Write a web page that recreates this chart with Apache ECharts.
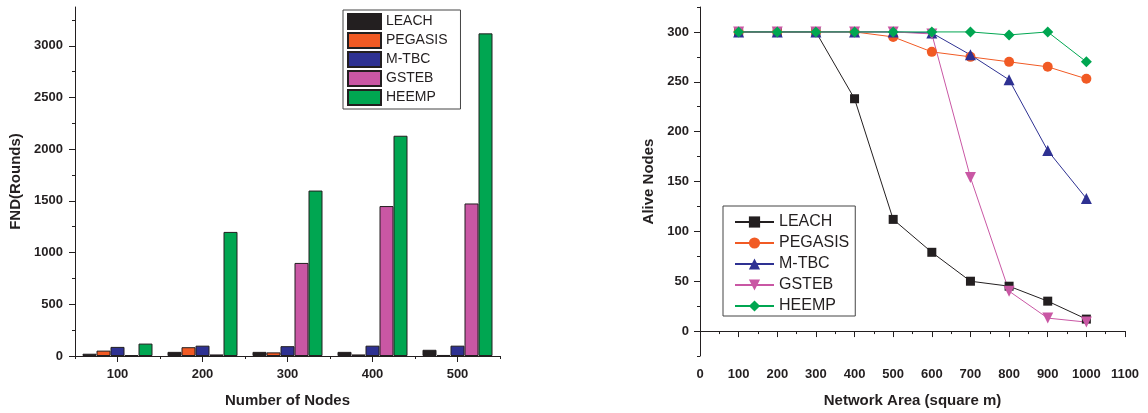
<!DOCTYPE html>
<html>
<head>
<meta charset="utf-8">
<script src="https://cdn.jsdelivr.net/npm/echarts@6/dist/echarts.min.js"></script>
<style>
  html, body { margin: 0; padding: 0; background: #fff; }
  #wrap { position: relative; width: 1148px; height: 413px; }
  #fnd { position: absolute; left: 0; top: 0; width: 574px; height: 413px; }
  #alive { position: absolute; left: 574px; top: 0; width: 574px; height: 413px; }
</style>
</head>
<body>
<div id="wrap">
  <div id="fnd"></div>
  <div id="alive"></div>
</div>
<script>
// ---- First node dead (rounds) per network size ----
const nodeCounts = ['100', '200', '300', '400', '500'];
const fndLeach   = [22, 40, 40, 40, 60];
const fndPegasis = [52, 85, 35, 15, 10];
const fndMtbc    = [88, 100, 95, 100, 100];
const fndGsteb   = [8, 15, 900, 1450, 1475];
const fndHeemp   = [120, 1200, 1600, 2130, 3120];
const fndMajorTicks = [0, 500, 1000, 1500, 2000, 2500, 3000];
const fndMinorTicks = [250, 750, 1250, 1750, 2250, 2750, 3250];

// ---- Alive nodes per network area ----
const areas        = [100, 200, 300, 400, 500, 600, 700, 800, 900, 1000];
const aliveLeach   = [300, 300, 300, 233, 112, 79, 50, 45, 30, 12];
const alivePegasis = [300, 300, 300, 300, 295, 280, 275, 270, 265, 253];
const aliveMtbc    = [300, 300, 300, 300, 300, 299, 277, 252, 181, 133];
const aliveGsteb   = [300, 300, 300, 300, 300, 298, 154, 40, 13, 9];
const aliveHeemp   = [300, 300, 300, 300, 300, 300, 300, 297, 300, 270];
const aliveMajorTicks = [0, 50, 100, 150, 200, 250, 300];
const aliveMinorTicks = [-25, 25, 75, 125, 175, 225, 275, 325];

const protocols = ['LEACH', 'PEGASIS', 'M-TBC', 'GSTEB', 'HEEMP'];
const colors = ['#231f20', '#f15a24', '#2e3192', '#c957a4', '#00a651'];

const INK = '#231f20';
const FONT = "'Liberation Sans', Arial, sans-serif";
const plain = v => String(v);
const tickLabel = { color: INK, fontFamily: FONT, fontWeight: 'bold', fontSize: 13, formatter: plain };
const axisName = { color: INK, fontFamily: FONT, fontWeight: 'bold', fontSize: 15 };
const axisLine = { show: true, lineStyle: { color: INK, width: 1 } };

// ---------- bar chart ----------
const fndSeriesData = [fndLeach, fndPegasis, fndMtbc, fndGsteb, fndHeemp];
const fndChart = echarts.init(document.getElementById('fnd'));
fndChart.setOption({
  animation: false,
  grid: { left: 75, right: 74, top: 7, bottom: 57, containLabel: false },
  legend: {
    orient: 'vertical', left: 343, top: 10,
    data: protocols, icon: 'rect',
    itemWidth: 33, itemHeight: 15, itemGap: 2,
    padding: [3, 13, 3, 4],
    borderColor: '#444', borderWidth: 1,
    textStyle: { color: INK, fontFamily: FONT, fontSize: 14, lineHeight: 16 }
  },
  xAxis: [{
    type: 'category', data: nodeCounts, boundaryGap: true,
    name: 'Number of Nodes', nameLocation: 'middle', nameGap: 37, nameTextStyle: axisName,
    axisLine: axisLine,
    axisTick: { show: true, alignWithLabel: true, length: 6, lineStyle: { color: INK } },
    axisLabel: Object.assign({}, tickLabel, { margin: 12 }),
    splitLine: { show: false }
  }, {
    type: 'category', data: nodeCounts, boundaryGap: true, position: 'bottom',
    axisLine: { show: false },
    axisTick: { show: true, length: 3, lineStyle: { color: INK } },
    axisLabel: { show: false },
    splitLine: { show: false }
  }],
  yAxis: [{
    type: 'value', min: 0, max: 3375, position: 'left',
    name: 'FND(Rounds)', nameLocation: 'middle', nameGap: 48, nameTextStyle: axisName,
    axisLine: axisLine,
    axisTick: { show: true, length: 6, customValues: fndMajorTicks, lineStyle: { color: INK } },
    axisLabel: Object.assign({}, tickLabel, { margin: 12, customValues: fndMajorTicks }),
    splitLine: { show: false }
  }, {
    type: 'value', min: 0, max: 3375, position: 'left',
    axisLine: { show: false },
    axisTick: { show: true, length: 3, customValues: fndMinorTicks, lineStyle: { color: INK } },
    axisLabel: { show: false },
    splitLine: { show: false }
  }],
  series: protocols.map((name, i) => ({
    name: name, type: 'bar', xAxisIndex: 0, yAxisIndex: 0,
    data: fndSeriesData[i],
    barWidth: 14, barGap: '0%',
    itemStyle: { color: colors[i], borderColor: INK, borderWidth: 1 }
  }))
});

// ---------- line chart ----------
const aliveSeriesData = [aliveLeach, alivePegasis, aliveMtbc, aliveGsteb, aliveHeemp];
const symbols = ['rect', 'circle', 'triangle', 'triangle', 'diamond'];
const symbolSizes = [9, 10, 11, 11, 11];
const symbolRotates = [0, 0, 0, 180, 0];
const aliveChart = echarts.init(document.getElementById('alive'));
aliveChart.setOption({
  animation: false,
  grid: { left: 126, right: 23, top: 7, bottom: 57, containLabel: false },
  legend: {
    orient: 'vertical', left: 149, top: 206,
    data: protocols,
    itemWidth: 39, itemHeight: 14, itemGap: 5,
    padding: [8, 6, 2, 11],
    borderColor: '#444', borderWidth: 1,
    textStyle: { color: INK, fontFamily: FONT, fontSize: 16, lineHeight: 16 }
  },
  xAxis: {
    type: 'value', min: 0, max: 1100, interval: 100,
    name: 'Network Area (square m)', nameLocation: 'middle', nameGap: 37, nameTextStyle: axisName,
    axisLine: axisLine,
    axisTick: { show: true, length: 6, lineStyle: { color: INK } },
    minorTick: { show: true, splitNumber: 2, length: 3, lineStyle: { color: INK } },
    axisLabel: Object.assign({}, tickLabel, { margin: 12 }),
    splitLine: { show: false }
  },
  yAxis: [{
    type: 'value', min: -25, max: 325, position: 'left',
    name: 'Alive Nodes', nameLocation: 'middle', nameGap: 35, nameTextStyle: axisName,
    axisLine: axisLine,
    axisTick: { show: true, length: 6, customValues: aliveMajorTicks, lineStyle: { color: INK } },
    axisLabel: Object.assign({}, tickLabel, { margin: 11, customValues: aliveMajorTicks }),
    splitLine: { show: false }
  }, {
    type: 'value', min: -25, max: 325, position: 'left',
    axisLine: { show: false },
    axisTick: { show: true, length: 3, customValues: aliveMinorTicks, lineStyle: { color: INK } },
    axisLabel: { show: false },
    splitLine: { show: false }
  }],
  series: protocols.map((name, i) => ({
    name: name, type: 'line', yAxisIndex: 0,
    data: areas.map((a, k) => [a, aliveSeriesData[i][k]]),
    symbol: symbols[i], symbolSize: symbolSizes[i], symbolRotate: symbolRotates[i],
    showAllSymbol: true,
    lineStyle: { color: colors[i], width: 1 },
    itemStyle: { color: colors[i] }
  }))
});
</script>
</body>
</html>
